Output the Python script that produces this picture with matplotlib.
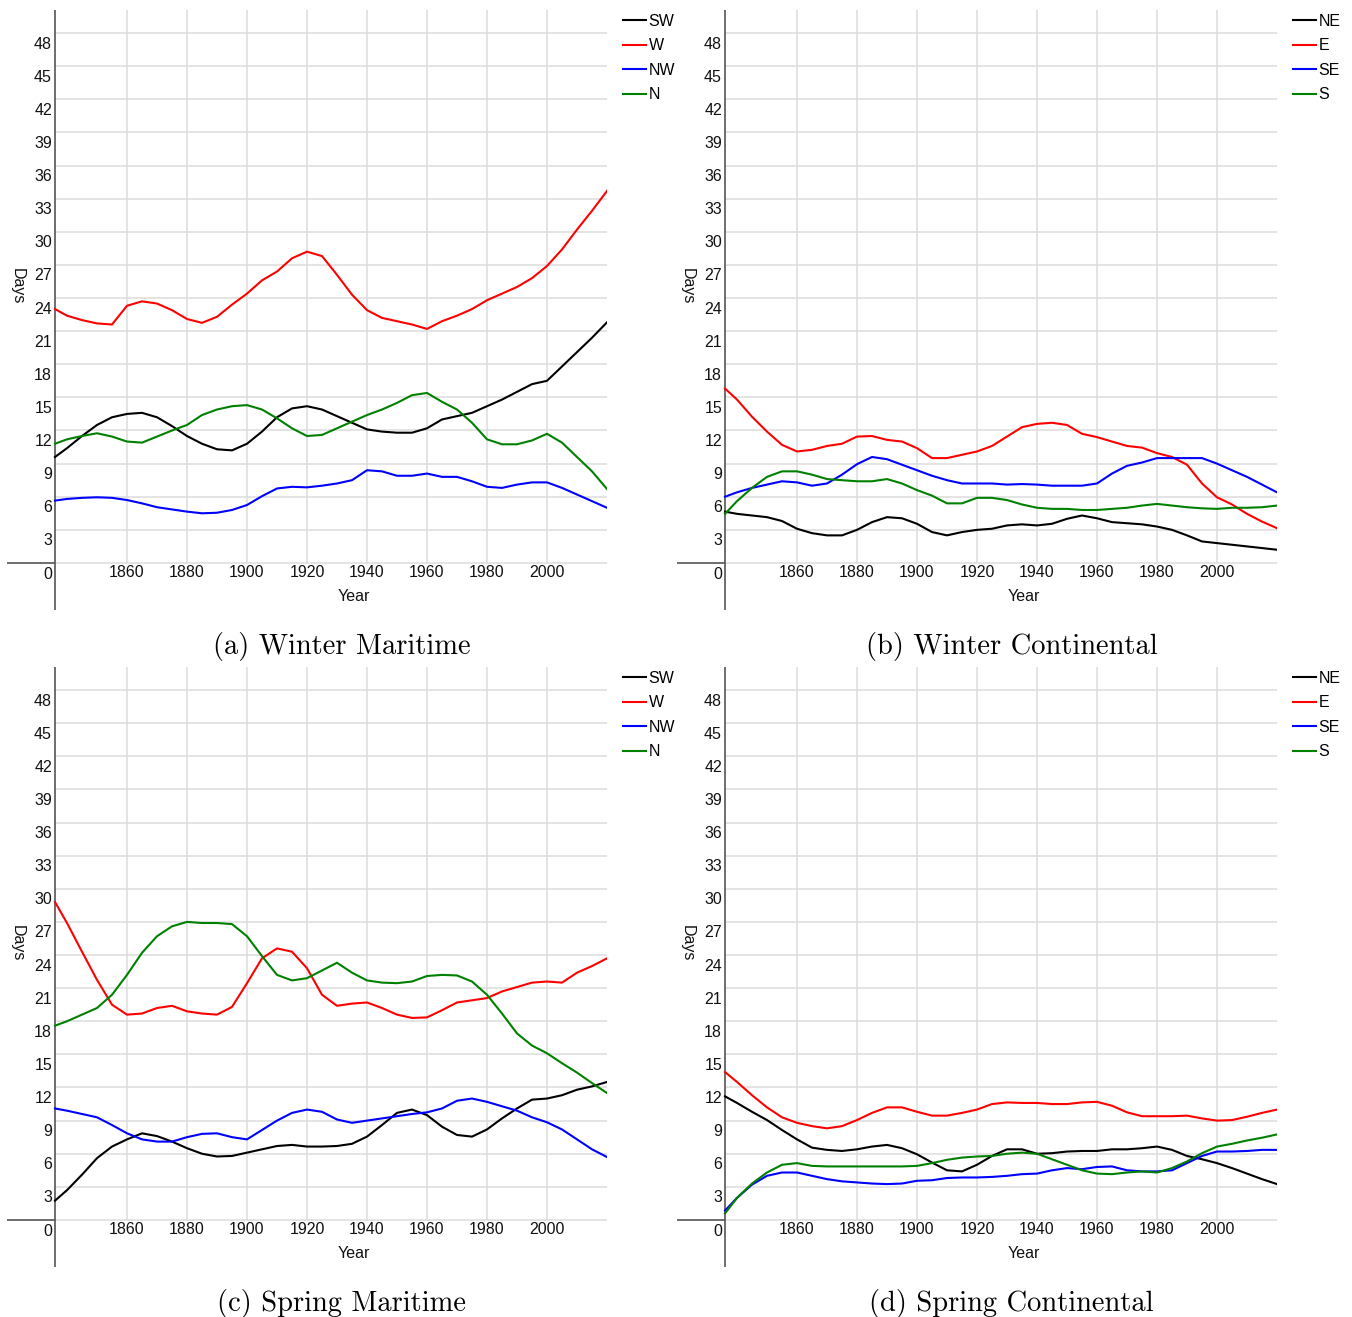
import matplotlib
matplotlib.use("Agg")
import matplotlib.pyplot as plt

# sample years shared by every series
YEARS = [1836] + list(range(1840, 2021, 5))
YEAR_TICKS = [1860, 1880, 1900, 1920, 1940, 1960, 1980, 2000]
DAY_TICKS = list(range(0, 49, 3))

MARITIME = ["SW", "W", "NW", "N"]
CONTINENTAL = ["NE", "E", "SE", "S"]
COLORS = ["#000000", "#ff0000", "#0000ff", "#008000"]

# (a) winter, maritime directions
winter_sw = [9.6, 10.4, 11.5, 12.5, 13.2, 13.5, 13.6, 13.2, 12.4, 11.5, 10.8, 10.3, 10.2,
             10.8, 11.9, 13.2, 14.0, 14.2, 13.9, 13.3, 12.7, 12.1, 11.9, 11.8, 11.8, 12.2,
             13.0, 13.3, 13.6, 14.2, 14.8, 15.5, 16.2, 16.5, 17.8, 19.1, 20.4, 21.8]
winter_w = [23.0, 22.4, 22.0, 21.7, 21.6, 23.3, 23.7, 23.5, 22.9, 22.1, 21.75, 22.3, 23.4,
            24.4, 25.6, 26.4, 27.6, 28.2, 27.8, 26.1, 24.3, 22.9, 22.2, 21.9, 21.6, 21.2,
            21.9, 22.4, 23.0, 23.8, 24.4, 25.0, 25.8, 26.9, 28.4, 30.2, 31.9, 33.7]
winter_nw = [5.65, 5.8, 5.9, 5.95, 5.9, 5.7, 5.4, 5.05, 4.85, 4.65, 4.5, 4.55, 4.8, 5.25,
             6.05, 6.75, 6.9, 6.85, 7.0, 7.2, 7.5, 8.4, 8.3, 7.9, 7.9, 8.1, 7.8, 7.8, 7.4,
             6.9, 6.8, 7.1, 7.3, 7.3, 6.8, 6.2, 5.6, 5.0]
winter_n = [10.8, 11.2, 11.5, 11.75, 11.45, 11.0, 10.9, 11.45, 12.0, 12.5, 13.4, 13.9, 14.2,
            14.3, 13.9, 13.1, 12.2, 11.5, 11.6, 12.2, 12.8, 13.4, 13.9, 14.5, 15.2, 15.4,
            14.6, 13.9, 12.7, 11.2, 10.75, 10.75, 11.1, 11.7, 10.9, 9.6, 8.3, 6.7]

# (b) winter, continental directions
winter_ne = [4.65, 4.45, 4.3, 4.15, 3.8, 3.1, 2.7, 2.5, 2.5, 3.0, 3.7, 4.15, 4.05, 3.55,
             2.8, 2.5, 2.8, 3.0, 3.1, 3.4, 3.5, 3.4, 3.55, 4.0, 4.3, 4.05, 3.7, 3.6, 3.5,
             3.3, 3.0, 2.5, 1.95, 1.8, 1.65, 1.5, 1.35, 1.2]
winter_e = [15.8, 14.8, 13.25, 11.9, 10.7, 10.1, 10.25, 10.6, 10.8, 11.45, 11.5, 11.15,
            11.0, 10.4, 9.5, 9.5, 9.8, 10.1, 10.6, 11.45, 12.3, 12.6, 12.7, 12.5, 11.7,
            11.4, 11.0, 10.6, 10.45, 9.95, 9.6, 8.9, 7.2, 5.95, 5.3, 4.45, 3.75, 3.15]
winter_se = [6.0, 6.4, 6.8, 7.1, 7.4, 7.3, 7.0, 7.2, 8.0, 8.95, 9.6, 9.4, 8.9, 8.4, 7.9,
             7.5, 7.2, 7.2, 7.2, 7.1, 7.15, 7.1, 7.0, 7.0, 7.0, 7.2, 8.1, 8.8, 9.1, 9.5,
             9.5, 9.5, 9.5, 9.0, 8.4, 7.8, 7.1, 6.4]
winter_s = [4.45, 5.6, 6.8, 7.8, 8.3, 8.3, 8.0, 7.6, 7.5, 7.4, 7.4, 7.6, 7.2, 6.6, 6.1,
            5.4, 5.4, 5.9, 5.9, 5.7, 5.3, 5.0, 4.9, 4.9, 4.8, 4.8, 4.9, 5.0, 5.2, 5.35,
            5.2, 5.05, 4.95, 4.9, 5.0, 5.0, 5.05, 5.2]

# (c) spring, maritime directions
spring_sw = [1.75, 2.7, 4.1, 5.6, 6.65, 7.3, 7.85, 7.6, 7.1, 6.5, 6.0, 5.75, 5.8, 6.1,
             6.4, 6.7, 6.8, 6.65, 6.65, 6.7, 6.9, 7.55, 8.6, 9.7, 10.0, 9.5, 8.45, 7.7,
             7.55, 8.2, 9.2, 10.1, 10.9, 11.0, 11.3, 11.8, 12.1, 12.5]
spring_w = [28.8, 26.9, 24.3, 21.75, 19.5, 18.6, 18.7, 19.2, 19.4, 18.9, 18.7, 18.6, 19.3,
            21.45, 23.7, 24.6, 24.3, 22.8, 20.4, 19.4, 19.6, 19.7, 19.2, 18.6, 18.3, 18.35,
            19.0, 19.7, 19.9, 20.1, 20.7, 21.1, 21.5, 21.6, 21.5, 22.4, 23.0, 23.7]
spring_nw = [10.1, 9.9, 9.6, 9.3, 8.6, 7.85, 7.3, 7.1, 7.1, 7.5, 7.8, 7.85, 7.5, 7.3,
             8.15, 9.0, 9.7, 10.0, 9.8, 9.1, 8.8, 9.0, 9.2, 9.4, 9.6, 9.75, 10.1, 10.8,
             11.0, 10.7, 10.3, 9.9, 9.3, 8.85, 8.2, 7.3, 6.4, 5.7]
spring_n = [17.6, 18.0, 18.6, 19.2, 20.4, 22.2, 24.2, 25.7, 26.6, 27.0, 26.9, 26.9, 26.8,
            25.7, 23.9, 22.2, 21.7, 21.9, 22.6, 23.3, 22.4, 21.7, 21.5, 21.45, 21.6, 22.1,
            22.2, 22.15, 21.6, 20.4, 18.7, 16.9, 15.8, 15.1, 14.2, 13.35, 12.4, 11.5]

# (d) spring, continental directions
spring_ne = [11.2, 10.6, 9.8, 9.05, 8.15, 7.3, 6.55, 6.35, 6.25, 6.4, 6.65, 6.8, 6.5,
             5.95, 5.2, 4.5, 4.4, 5.0, 5.8, 6.4, 6.4, 6.0, 6.05, 6.2, 6.25, 6.25, 6.4,
             6.4, 6.5, 6.65, 6.35, 5.8, 5.5, 5.15, 4.7, 4.2, 3.7, 3.25]
spring_e = [13.4, 12.5, 11.3, 10.2, 9.3, 8.8, 8.5, 8.3, 8.5, 9.05, 9.7, 10.2, 10.2, 9.8,
            9.45, 9.45, 9.7, 10.0, 10.5, 10.65, 10.6, 10.6, 10.5, 10.5, 10.65, 10.7, 10.35,
            9.75, 9.4, 9.4, 9.4, 9.45, 9.2, 9.0, 9.05, 9.35, 9.7, 10.0]
spring_se = [0.85, 2.0, 3.2, 4.0, 4.3, 4.3, 4.0, 3.7, 3.5, 3.4, 3.3, 3.25, 3.3, 3.55, 3.6,
             3.8, 3.85, 3.85, 3.9, 4.0, 4.15, 4.2, 4.5, 4.7, 4.6, 4.8, 4.85, 4.5, 4.4, 4.4,
             4.5, 5.15, 5.8, 6.2, 6.2, 6.25, 6.35, 6.35]
spring_s = [0.6, 2.0, 3.3, 4.3, 5.0, 5.15, 4.9, 4.85, 4.85, 4.85, 4.85, 4.85, 4.85, 4.9,
            5.15, 5.45, 5.65, 5.75, 5.8, 6.0, 6.1, 6.0, 5.5, 5.0, 4.5, 4.2, 4.15, 4.3, 4.4,
            4.3, 4.7, 5.3, 6.05, 6.65, 6.9, 7.2, 7.45, 7.75]

FW, FH = 1352, 1317
TICK_FONT = "Liberation Sans"
GRID = "#dddddd"
FS = 11.5


def draw_panel(ax, series, names, caption):
    x0 = YEARS[0]
    ax.set_xlim(1820, 2020)
    ax.set_ylim(-4.26, 50.09)
    ax.set_axis_off()

    # grid
    ax.hlines(DAY_TICKS, x0, 2020, color=GRID, lw=1.1, zorder=1)
    ax.vlines(YEAR_TICKS, 0, 50.09, color=GRID, lw=1.1, zorder=1)
    # axes lines
    ax.vlines(x0, -4.26, 50.09, color="#555555", lw=1.2, zorder=3)
    ax.hlines(0, 1820, x0, color="#555555", lw=1.2, zorder=3)

    for vals, name, c in zip(series, names, COLORS):
        ax.plot(YEARS, vals, color=c, lw=1.5, label=name, zorder=4)

    for d in DAY_TICKS:
        ax.text(x0 - 1, d - 1.0, str(d), ha="right", va="center",
                fontsize=FS, family=TICK_FONT, color="#111111")
    for yr in YEAR_TICKS:
        ax.text(yr, -0.9, str(yr), ha="center", va="center",
                fontsize=FS, family=TICK_FONT, color="#111111")
    ax.text(1935.7, -3.08, "Year", ha="center", va="center",
            fontsize=FS, family=TICK_FONT, color="#111111")
    ax.text(1823.3, 25.1, "Days", ha="center", va="center", rotation=270,
            fontsize=FS, family=TICK_FONT, color="#111111")

    ax.legend(loc="upper left", bbox_to_anchor=(1.027, 0.994), frameon=False,
              borderaxespad=0, borderpad=0, handlelength=1.4, handletextpad=0.2,
              labelspacing=0.6, prop={"family": TICK_FONT, "size": FS})

    ax.text(0.558, -0.061, caption, transform=ax.transAxes, ha="center",
            va="center", fontsize=20.5, family="cmr10")


fig = plt.figure(figsize=(FW / 100, FH / 100), dpi=100)

panels = [
    ((7, 10), [winter_sw, winter_w, winter_nw, winter_n], MARITIME, "(a) Winter Maritime"),
    ((677, 10), [winter_ne, winter_e, winter_se, winter_s], CONTINENTAL, "(b) Winter Continental"),
    ((7, 667), [spring_sw, spring_w, spring_nw, spring_n], MARITIME, "(c) Spring Maritime"),
    ((677, 667), [spring_ne, spring_e, spring_se, spring_s], CONTINENTAL, "(d) Spring Continental"),
]

for (px, py), series, names, caption in panels:
    ax = fig.add_axes([px / FW, (FH - py - 600) / FH, 600 / FW, 600 / FH])
    draw_panel(ax, series, names, caption)

fig.savefig("out.png", dpi=100)
